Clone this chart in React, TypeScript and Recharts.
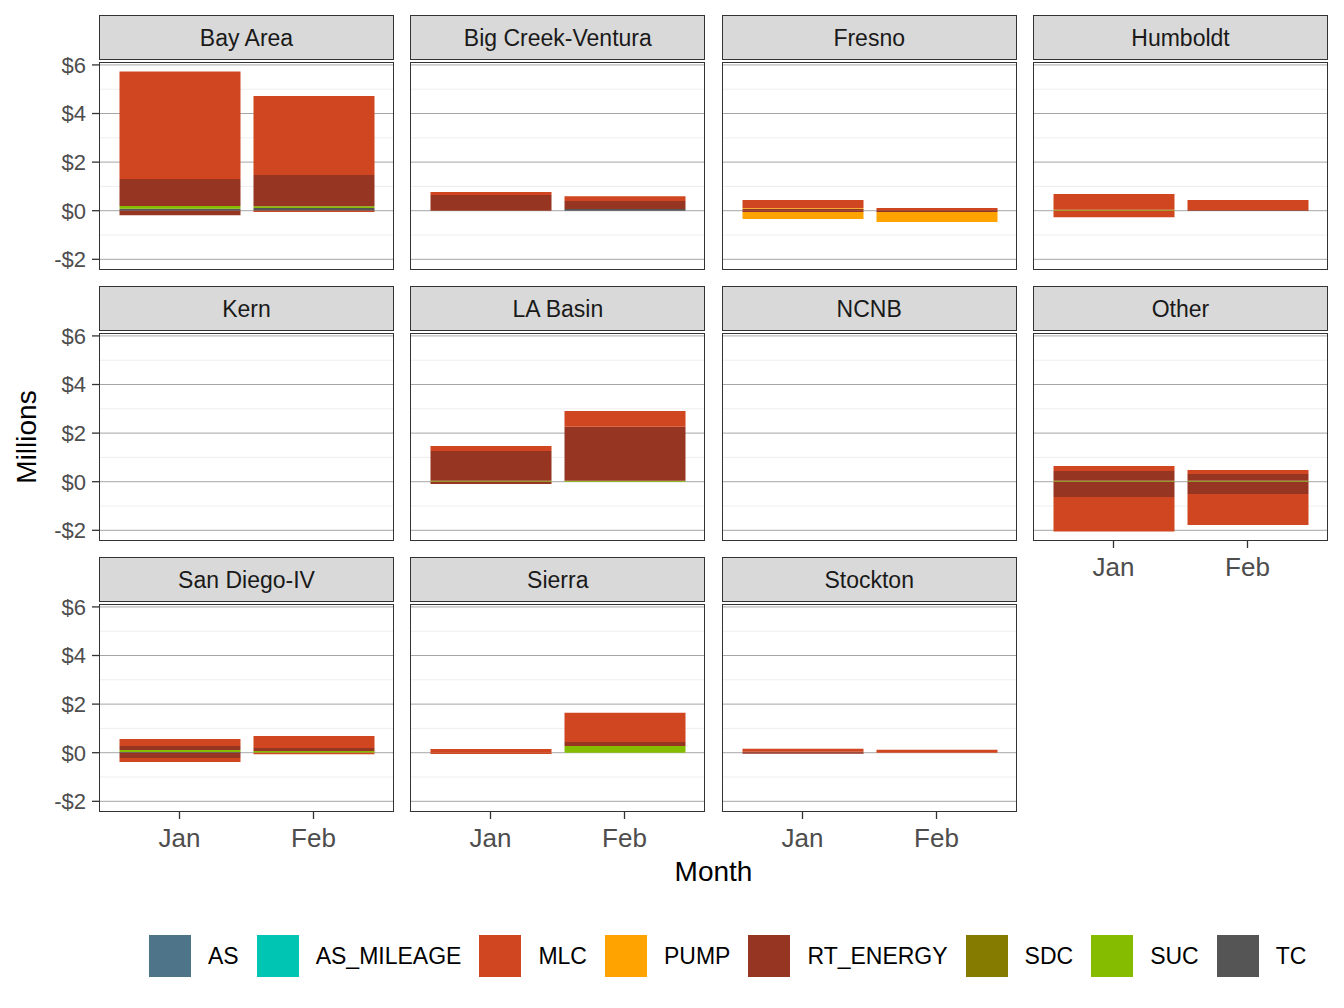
import React from 'react';
import { BarChart, Bar, XAxis, YAxis, CartesianGrid } from 'recharts';

// facet order, left to right, top to bottom
const REGIONS = [
  'Bay Area',
  'Big Creek-Ventura',
  'Fresno',
  'Humboldt',
  'Kern',
  'LA Basin',
  'NCNB',
  'Other',
  'San Diego-IV',
  'Sierra',
  'Stockton',
];
const MONTHS = ['Jan', 'Feb'];

// millions of $, one [Jan, Feb] pair per region (same order as REGIONS)
const TC = [[0.08, 0.11], [0, 0.07], [0, 0], [0, 0], [0, 0], [0, 0], [0, 0], [0, 0], [0.03, 0], [0, 0], [0, 0]];
const SUC = [[0.11, 0.07], [0, 0], [0, 0], [0.04, 0], [0, 0], [0.04, 0.04], [0, 0], [0.04, 0.04], [0.08, 0.07], [0, 0.28], [0, 0]];
const RT_ENERGY = [[1.11, 1.29], [0.65, 0.33], [0.08, 0.03], [0, 0.03], [0, 0], [1.22, 2.22], [0, 0], [0.4, 0.28], [0.17, 0.12], [0, 0.16], [0.04, 0]];
const PUMP = [[0, 0], [0, 0], [0.03, 0], [0, 0], [0, 0], [0, 0], [0, 0], [0, 0], [0, 0], [0, 0], [0, 0]];
const MLC = [[4.43, 3.25], [0.12, 0.2], [0.33, 0.08], [0.65, 0.41], [0, 0], [0.21, 0.65], [0, 0], [0.21, 0.16], [0.28, 0.5], [0.15, 1.2], [0.12, 0.12]];

// negative parts
const RT_ENERGY_NEG = [[-0.19, 0], [0, 0], [-0.05, -0.05], [0, 0], [0, 0], [-0.09, 0], [0, 0], [-0.63, -0.51], [-0.22, 0], [0, 0], [-0.04, 0]];
const PUMP_NEG = [[0, 0], [0, 0], [-0.29, -0.41], [0, 0], [0, 0], [0, 0], [0, 0], [0, 0], [0, 0], [0, 0], [0, 0]];
const MLC_NEG = [[0, -0.05], [0, 0], [0, 0], [-0.27, 0], [0, 0], [0, 0], [0, 0], [-1.42, -1.27], [-0.16, -0.06], [-0.05, 0], [0, 0]];

const MAJOR_TICKS = [-2, 0, 2, 4, 6];
const MINOR_TICKS = [-1, 1, 3, 5];

const COLORS: Record<string, string> = {
  AS: '#4e7489',
  AS_MILEAGE: '#00c5b2',
  MLC: '#d04620',
  PUMP: '#ffa300',
  RT_ENERGY: '#963522',
  SDC: '#857b00',
  SUC: '#85bc00',
  TC: '#555555',
};
const LEGEND_KEYS = ['AS', 'AS_MILEAGE', 'MLC', 'PUMP', 'RT_ENERGY', 'SDC', 'SUC', 'TC'];

// stacking order, bottom up (ggplot puts the first level on top)
const STACK = [
  { key: 'TC', color: COLORS.TC },
  { key: 'SUC', color: COLORS.SUC },
  { key: 'RT_ENERGY', color: COLORS.RT_ENERGY },
  { key: 'RT_ENERGY_NEG', color: COLORS.RT_ENERGY },
  { key: 'PUMP', color: COLORS.PUMP },
  { key: 'PUMP_NEG', color: COLORS.PUMP },
  { key: 'MLC', color: COLORS.MLC },
  { key: 'MLC_NEG', color: COLORS.MLC },
];

const FONT = '"Liberation Sans", Arial, Helvetica, sans-serif';

const PANEL_W = 295;
const PANEL_H = 208;
const COL_X = [99, 410.3, 721.7, 1033];
const ROW_Y = [15, 286, 557];
const STRIP_H = 45;
const Y_AXIS_W = 80;
const X_AXIS_H = 50;
const PAD = 14; // room above/below the plot so tick labels are not clipped

const fmtMoney = (v: number) => (v < 0 ? `-$${-v}` : `$${v}`);

const regionData = (i: number) =>
  MONTHS.map((m, j) => ({
    month: m,
    TC: TC[i][j],
    SUC: SUC[i][j],
    RT_ENERGY: RT_ENERGY[i][j],
    RT_ENERGY_NEG: RT_ENERGY_NEG[i][j],
    PUMP: PUMP[i][j],
    PUMP_NEG: PUMP_NEG[i][j],
    MLC: MLC[i][j],
    MLC_NEG: MLC_NEG[i][j],
  }));

const Panel: React.FC<{ index: number }> = ({ index }) => {
  const col = index % 4;
  const row = Math.floor(index / 4);
  const showY = col === 0;
  const showX = row === 2 || REGIONS[index] === 'Other';
  const left = COL_X[col];
  const top = ROW_Y[row];
  const plotTop = top + STRIP_H + 2;
  const chartW = PANEL_W + (showY ? Y_AXIS_W : 0);
  const chartH = PANEL_H + (showX ? X_AXIS_H : 0) + PAD * 2;

  return (
    <>
      <div
        style={{
          position: 'absolute',
          left,
          top,
          width: PANEL_W,
          height: STRIP_H,
          boxSizing: 'border-box',
          border: '1.3px solid #333',
          background: '#d9d9d9',
          display: 'flex',
          alignItems: 'center',
          justifyContent: 'center',
          fontSize: 23,
          color: '#1a1a1a',
          paddingTop: 2,
        }}
      >
        {REGIONS[index]}
      </div>
      <div style={{ position: 'absolute', left: left - (showY ? Y_AXIS_W : 0), top: plotTop - PAD }}>
        <BarChart
          width={chartW}
          height={chartH}
          data={regionData(index)}
          margin={{ top: PAD, right: 0, bottom: PAD, left: 0 }}
          stackOffset="sign"
          barSize={121}
        >
          <CartesianGrid vertical={false} horizontalValues={MINOR_TICKS} stroke="#ececec" strokeWidth={0.9} />
          <CartesianGrid vertical={false} horizontalValues={MAJOR_TICKS} stroke="#a6a6a6" strokeWidth={1} />
          <XAxis
            dataKey="month"
            hide={!showX}
            height={X_AXIS_H}
            padding={{ left: 13.5, right: 13.5 }}
            interval={0}
            axisLine={false}
            tickSize={7}
            tickMargin={10}
            tickLine={{ stroke: '#333', strokeWidth: 1.3 }}
            tick={{ fill: '#4d4d4d', fontSize: 26, fontFamily: FONT }}
          />
          <YAxis
            type="number"
            domain={[-2.44, 6.12]}
            allowDataOverflow
            ticks={MAJOR_TICKS}
            interval={0}
            hide={!showY}
            width={Y_AXIS_W}
            axisLine={false}
            tickSize={7}
            tickMargin={6}
            tickLine={{ stroke: '#333', strokeWidth: 1.3 }}
            tickFormatter={fmtMoney}
            tick={{ fill: '#4d4d4d', fontSize: 22, fontFamily: FONT }}
          />
          {STACK.map((s) => (
            <Bar key={s.key} dataKey={s.key} stackId="a" fill={s.color} isAnimationActive={false} />
          ))}
        </BarChart>
      </div>
      <div
        style={{
          position: 'absolute',
          left,
          top: plotTop,
          width: PANEL_W,
          height: PANEL_H,
          boxSizing: 'border-box',
          border: '1.3px solid #333',
          pointerEvents: 'none',
        }}
      />
    </>
  );
};

export default function App() {
  return (
    <div
      style={{
        position: 'absolute',
        left: 0,
        top: 0,
        width: 1344,
        height: 1008,
        background: '#fff',
        fontFamily: FONT,
        overflow: 'hidden',
      }}
    >
      {REGIONS.map((r, i) => (
        <Panel key={r} index={i} />
      ))}

      {/* axis titles */}
      <div
        style={{
          position: 'absolute',
          left: 99,
          width: 1229,
          top: 856,
          textAlign: 'center',
          fontSize: 28,
          lineHeight: '32px',
          color: '#000',
        }}
      >
        Month
      </div>
      <div
        style={{
          position: 'absolute',
          left: 27,
          top: 437,
          transform: 'translate(-50%, -50%) rotate(-90deg)',
          whiteSpace: 'nowrap',
          fontSize: 28,
          color: '#000',
        }}
      >
        Millions
      </div>

      {/* legend */}
      <div
        style={{
          position: 'absolute',
          left: 149,
          top: 935,
          height: 42,
          display: 'flex',
          alignItems: 'center',
          fontSize: 23,
          color: '#000',
        }}
      >
        {LEGEND_KEYS.map((k) => (
          <div key={k} style={{ display: 'flex', alignItems: 'center', marginRight: 18 }}>
            <div style={{ width: 42, height: 42, background: COLORS[k], marginRight: 17 }} />
            <span>{k}</span>
          </div>
        ))}
      </div>
    </div>
  );
}
